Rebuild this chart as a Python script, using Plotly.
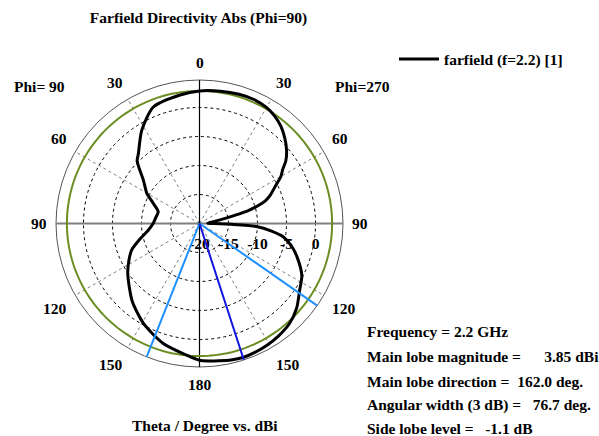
import math
import plotly.graph_objects as go

# ---- data (theta in degrees, clockwise from top; r in dBi) ----
theta_deg = [0, 9, 17, 24, 30, 35, 40, 45, 50, 54, 57, 60, 64, 68, 71, 73, 75, 77, 79, 82,
             86, 89, 90, 91.5, 93, 96, 99, 104, 109, 117, 124, 131, 138, 145, 151, 157,
             162, 167, 172, 176, 180, 185.6, 196.8, 209, 221, 235, 242, 248.5, 255, 262,
             270, 278, 286, 294, 300, 307.6, 315, 318.8, 328.2, 338.4, 351.4, 360]
directivity_dbi = [2.86, 3.1, 3.3, 3.35, 3.1, 2.6, 1.85, 0.8, -0.4, -1.6, -2.9, -3.8, -5.5,
                   -6.8, -8.0, -9.4, -11.2, -13.8, -15.8, -17.4, -18.3, -18.6, -18.0, -14.5,
                   -10.2, -7.5, -5.4, -3.6, -2.2, -0.2, 0.8, 2.2, 3.2, 3.7, 4.0, 4.2, 4.3,
                   4.15, 3.9, 3.75, 3.57, 2.81, 1.6, -0.2, -2.3, -4.9, -6.2, -7.4, -9.3,
                   -11.0, -12.0, -12.4, -12.6, -11.2, -9.5, -7.8, -4.8, -4.0, -1.1, 1.6,
                   2.4, 2.86]

main_lobe_dir = 162.0
beam_edges = [124.9, 201.6]
green_level = 2.86
r_min, r_max = -20, 4.74

radial_ticks = [-20, -15, -10, -5, 0]
radial_ticktext = ["-20", "-15", "-10", "-5", "0"]
angle_ticks = [0, 30, 60, 90, 120, 150, 180, 210, 240, 270, 300, 330]
angle_ticktext = ["0", "30", "60", "90", "120", "150", "180", "150", "120", "90", "60", "30"]

info_lines = ["Frequency = 2.2 GHz",
              "Main lobe magnitude =\u00a0\u00a0\u00a0\u00a0\u00a0 3.85 dBi",
              "Main lobe direction =\u00a0 162.0 deg.",
              "Angular width (3 dB) =\u00a0\u00a0 76.7 deg.",
              "Side lobe level =\u00a0\u00a0 -1.1 dB"]
info_y_px = [331, 356, 381, 405, 428]

W, H = 599, 436
CX, CY, RAD = 199.5, 223.5, 143.5
SERIF = "Liberation Serif"
FS = 15.5

fig = go.Figure()

# axis cross lines
fig.add_trace(go.Scatterpolar(theta=[270, 0, 90], r=[r_max, r_min, r_max], mode="lines",
                              line=dict(color="#7f7f7f", width=2), showlegend=False,
                              hoverinfo="skip"))
fig.add_trace(go.Scatterpolar(theta=[0, 0, 180], r=[r_max, r_min, r_max], mode="lines",
                              line=dict(color="black", width=1.2), showlegend=False,
                              hoverinfo="skip"))
# green reference ring
ring_theta = list(range(0, 361, 2))
fig.add_trace(go.Scatterpolar(theta=ring_theta, r=[green_level] * len(ring_theta),
                              mode="lines", line=dict(color="#6b8e23", width=2),
                              showlegend=False, hoverinfo="skip"))
# farfield curve
fig.add_trace(go.Scatterpolar(theta=theta_deg, r=directivity_dbi, mode="lines",
                              line=dict(color="black", width=3, shape="spline",
                                        smoothing=0.7),
                              name="farfield (f=2.2) [1]", showlegend=True))
# beam lines
for e in beam_edges:
    fig.add_trace(go.Scatterpolar(theta=[e, e], r=[r_min, r_max], mode="lines",
                                  line=dict(color="#1e90ff", width=2), showlegend=False,
                                  hoverinfo="skip"))
fig.add_trace(go.Scatterpolar(theta=[main_lobe_dir, main_lobe_dir], r=[r_min, r_max],
                              mode="lines", line=dict(color="#1414e0", width=2),
                              showlegend=False, hoverinfo="skip"))

font_b = dict(family=SERIF, size=FS, color="black", weight="bold")

fig.update_layout(
    width=W, height=H, margin=dict(l=0, r=0, t=0, b=0),
    paper_bgcolor="white", plot_bgcolor="white",
    title=dict(text="Farfield Directivity Abs (Phi=90)", x=198.5 / W, xanchor="center",
               y=1 - 18 / H, yanchor="middle", yref="container", font=font_b),
    polar=dict(
        domain=dict(x=[(CX - RAD) / W, (CX + RAD) / W],
                    y=[(H - CY - RAD) / H, (H - CY + RAD) / H]),
        bgcolor="white",
        radialaxis=dict(range=[r_min, r_max], tickvals=radial_ticks,
                        ticktext=radial_ticktext, angle=0, side="clockwise",
                        showline=False, ticks="outside", ticklen=6,
                        tickcolor="rgba(0,0,0,0)", tickfont=font_b,
                        gridcolor="black", gridwidth=1, griddash="3px,3px",
                        layer="below traces"),
        angularaxis=dict(rotation=90, direction="clockwise", tickvals=angle_ticks,
                         showticklabels=False, ticks="",
                         showline=True, linecolor="#555555", linewidth=1,
                         gridcolor="#808080", gridwidth=1, griddash="3px,3px",
                         layer="below traces"),
    ),
    legend=dict(x=394 / W, xanchor="left", y=1 - 59.5 / H, yanchor="middle",
                font=font_b, bgcolor="rgba(0,0,0,0)", itemwidth=40),
    showlegend=True,
)

ann = [dict(text="Phi= 90", x=13 / W, y=1 - 87 / H, xanchor="left", yanchor="middle"),
       dict(text="Phi=270", x=334 / W, y=1 - 87 / H, xanchor="left", yanchor="middle"),
       dict(text="Theta / Degree vs. dBi", x=205 / W, y=1 - 425 / H, xanchor="center",
            yanchor="middle")]
for t, yy in zip(info_lines, info_y_px):
    ann.append(dict(text=t, x=366 / W, y=1 - yy / H, xanchor="left", yanchor="middle"))

# angular tick labels placed just outside the outer ring
PAD = 8
for ang, txt in zip(angle_ticks, angle_ticktext):
    a = math.radians(ang)
    s, c = math.sin(a), math.cos(a)
    px = CX + (RAD + PAD) * s
    py = CY - (RAD + PAD) * c
    xa = "left" if s > 0.1 else ("right" if s < -0.1 else "center")
    ya = "bottom" if c > 0.1 else ("top" if c < -0.1 else "middle")
    ann.append(dict(text=txt, x=px / W, y=1 - py / H, xanchor=xa, yanchor=ya))

for a in ann:
    fig.add_annotation(xref="paper", yref="paper", showarrow=False, font=font_b,
                       borderpad=0, **a)

fig.write_html("out.html", config={"displayModeBar": False},
               post_script="document.body.style.margin='0px';")
